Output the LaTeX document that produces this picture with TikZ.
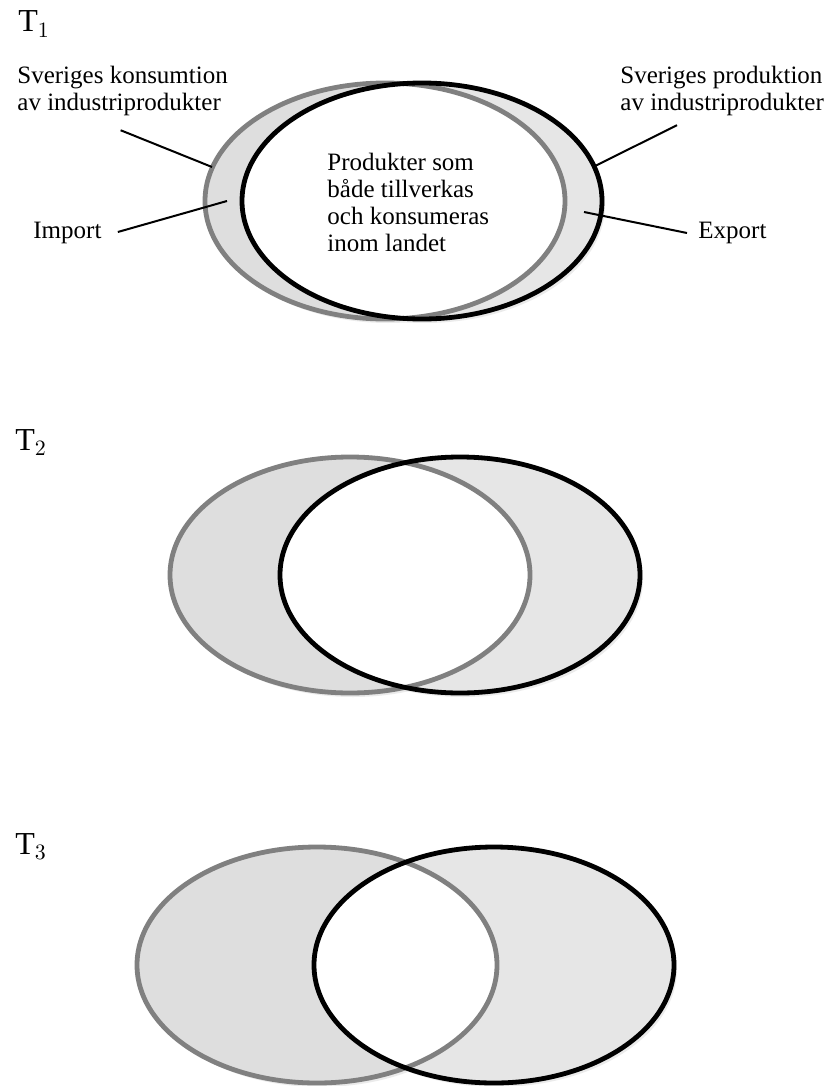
\documentclass[tikz,border=0pt]{standalone}
\usepackage{fontspec}
\setmainfont{Liberation Serif}
\usetikzlibrary{calc}
\definecolor{konsgray}{HTML}{808080}
\definecolor{konsfill}{HTML}{DEDEDE}
\definecolor{prodfill}{HTML}{E6E6E6}
\definecolor{shadowgray}{HTML}{EBEBEB}
\tikzset{
  konsring/.style={draw=konsgray, line width=2.4pt},
  prodring/.style={draw=black, line width=2.4pt},
  boxtext/.style={font=\fontsize{12.5}{13.5}\selectfont, inner sep=0pt, align=left, anchor=west},
  timetag/.style={font=\fontsize{16}{18}\selectfont, inner sep=0pt, anchor=base west},
  leader/.style={line width=1pt},
}
\begin{document}
\begin{tikzpicture}[x=0.5pt, y=-0.5pt]
  \useasboundingbox (0,0) rectangle (836,1086);

  % the three pairs: consumption (grey) and production (black)
  \foreach \gx/\bx/\cy in {385/422/201, 350/460/575, 317/494/965} {
    \fill[shadowgray] (\gx+3,\cy+4) ellipse [x radius=180, y radius=118];
    \fill[shadowgray] (\bx+3,\cy+4) ellipse [x radius=180, y radius=118];
    \fill[konsfill] (\gx,\cy) ellipse [x radius=180, y radius=118];
    \fill[prodfill] (\bx,\cy) ellipse [x radius=180, y radius=118];
    \begin{scope}
      \clip (\gx,\cy) ellipse [x radius=180, y radius=118];
      \fill[white] (\bx,\cy) ellipse [x radius=180, y radius=118];
    \end{scope}
    \draw[konsring] (\gx,\cy) ellipse [x radius=180, y radius=118];
    \draw[prodring] (\bx,\cy) ellipse [x radius=180, y radius=118];
  }

  \node[timetag] (t1) at (18,32) {\(\mathrm{T}_1\)};
  \node[timetag] (t2) at (15,450) {\(\mathrm{T}_2\)};
  \node[timetag] (t3) at (15,854) {\(\mathrm{T}_3\)};

  \node[boxtext] (konsum) at (17,91) {Sveriges konsumtion\\av industriprodukter};
  \node[boxtext] (prod) at (620,91) {Sveriges produktion\\av industriprodukter};
  \node[boxtext] (import) at (33,233) {Import};
  \node[boxtext] (export) at (698,233) {Export};
  \node[boxtext] (inom) at (327,202) {Produkter som\\både tillverkas\\och konsumeras\\inom landet};

  \coordinate (konsumEnd) at (212,167);
  \coordinate (importEnd) at (227,201);
  \coordinate (prodEnd) at (595,166);
  \coordinate (exportEnd) at (584,212);

  \draw[leader] (konsum.south) ++(-2,14) -- (konsumEnd);
  \draw[leader] (import.east) ++(16,-1) -- (importEnd);
  \draw[leader] (prod.south west) ++(57,9) -- (prodEnd);
  \draw[leader] (export.west) ++(-11,0) -- (exportEnd);
\end{tikzpicture}
\end{document}
